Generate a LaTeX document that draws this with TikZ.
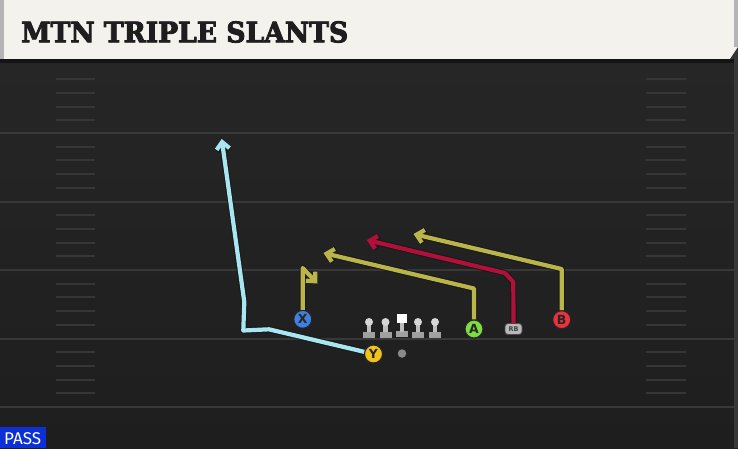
\documentclass[tikz,border=0pt]{standalone}
\usepackage{fontspec}
\usepackage{graphicx}
\usetikzlibrary{arrows.meta}
\newfontfamily\titlefont{DejaVu Serif Condensed Bold}[FakeBold=3]
\newfontfamily\plfont{DejaVu Sans}
\newfontfamily\passfont{Fira Sans}
\definecolor{fieldtop}{HTML}{262626}
\definecolor{fieldbot}{HTML}{1E1E1E}
\definecolor{yardcol}{HTML}{383838}
\definecolor{hashcol}{HTML}{363636}
\definecolor{headerbg}{HTML}{F4F2EC}
\definecolor{headeredge}{HTML}{B4B4B4}
\definecolor{titlecol}{HTML}{1E1E1E}
\definecolor{passblue}{HTML}{0C30D6}
\definecolor{rtblue}{HTML}{A8E6F2}
\definecolor{rtolive}{HTML}{B9B54B}
\definecolor{rtred}{HTML}{B0103A}
\definecolor{xblue}{HTML}{3F7FE0}
\definecolor{yyellow}{HTML}{F2C21C}
\definecolor{agreen}{HTML}{7DDC40}
\definecolor{bred}{HTML}{E8323C}
\definecolor{rbgray}{HTML}{B8B8B8}
\definecolor{ballgray}{HTML}{8A8A8A}
\definecolor{linetop}{HTML}{D6D6D6}
\definecolor{linegray}{HTML}{BDBDBD}
\definecolor{linebot}{HTML}{A0A0A0}
\tikzset{
  yardline/.style={draw=yardcol, line width=2pt},
  hashmark/.style={draw=hashcol, line width=2pt},
  route/.style={line width=4.2pt, line join=round,
    -{Straight Barb[length=7pt,width=13pt]},
    preaction={draw=black!90, line width=6.2pt, line join=round}},
  player/.style={circle, draw=black!85, line width=1.1pt, minimum size=18pt,
    inner sep=0pt, font=\plfont\bfseries\fontsize{12.5}{12.5}\selectfont, text=black!85},
  rbbox/.style={rounded corners=3pt, fill=rbgray, draw=black!70, line width=0.9pt,
    minimum width=17pt, minimum height=11pt, inner sep=0pt,
    font=\plfont\bfseries\fontsize{6.5}{6.5}\selectfont, text=black!75},
  lineman/.pic={
    \fill[linebot] (-6,3.5) rectangle (6,9.5);
    \fill[linegray] (-2.3,-4) rectangle (2.3,4);
    \fill[linetop] (0,-6) circle (4);
  },
  centerman/.pic={
    \fill[linebot] (-6,3) rectangle (6,8.5);
    \fill[linegray] (-2.3,-6) rectangle (2.3,4);
    \fill[white] (-5.3,-14.5) rectangle (5.3,-5.5);
  }
}
\begin{document}
\begin{tikzpicture}[x=1pt,y=-1pt]
\useasboundingbox (0,0) rectangle (738,448);
% field
\fill[top color=fieldtop, bottom color=fieldbot] (0,59) rectangle (738,448);
\fill[black!78] (734,59) rectangle (738,448);
\foreach \yy in {133,201.5,270,338.5,407} \draw[yardline] (0,\yy) -- (734,\yy);
\foreach \yb in {65.5,133,201.5,270,338.5}{
  \foreach \k in {1,2,3,4}{
    \pgfmathsetmacro\hy{\yb+13.7*\k}
    \draw[hashmark] (56,\hy) -- (95,\hy);
    \draw[hashmark] (646,\hy) -- (686,\hy);
  }
}
% header
\fill[black!92] (0,59) rectangle (734,63);
\fill[headerbg] (0,0) rectangle (738,59);
\fill[headeredge] (0,0) rectangle (4,59);
\fill[headeredge] (734,0) rectangle (738,47);
\fill[black!80] (730,59) -- (738,47) -- (738,59) -- cycle;
\node[anchor=base west, inner sep=0pt, text=titlecol] (title) at (21,42.3)
  {\resizebox{327pt}{\height}{\titlefont\fontsize{28.3}{30}\selectfont MTN TRIPLE SLANTS}};
% pass label
\node[fill=passblue, anchor=south west, minimum width=46pt, minimum height=20.5pt, inner sep=0pt] (passbox) at (0,448) {};
\node[anchor=base west, inner sep=0pt, text=white] (passtxt) at (4,444)
  {\resizebox{37pt}{\height}{\passfont\fontsize{17}{18}\selectfont PASS}};
% line
\pic at (369,328) {lineman};
\pic at (385.5,328) {lineman};
\pic at (402,328) {centerman};
\pic at (418,328) {lineman};
\pic at (435,328) {lineman};
\node[circle, fill=ballgray, minimum size=8.5pt, inner sep=0pt] (ball) at (402,353.5) {};
% players
\node[player, fill=xblue] (X) at (302.7,319.3) {X};
\node[player, fill=yyellow] (Y) at (373.5,354) {Y};
\node[player, fill=agreen] (A) at (474,329) {A};
\node[player, fill=bred] (B) at (561.7,319.7) {B};
\node[rbbox] (RB) at (513.5,329) {RB};
% route points
\coordinate (x1) at (302.7,268);
\coordinate (xt) at (317.5,283.5);
\coordinate (y1) at (269,329.3);
\coordinate (y2) at (243.3,330.5);
\coordinate (y3) at (244.3,302);
\coordinate (yt) at (221.7,139);
\coordinate (a1) at (474,288.5);
\coordinate (at) at (323.5,253);
\coordinate (r1) at (513.3,282);
\coordinate (r2) at (505,273);
\coordinate (rt) at (366.7,240);
\coordinate (b1) at (561.7,269);
\coordinate (bt) at (413.5,234);
% routes
\draw[route, rtblue] (Y) -- (y1) -- (y2) -- (y3) -- (yt);
\draw[route, rtolive] (X) -- (x1) -- (xt);
\draw[route, rtolive] (A) -- (a1) -- (at);
\draw[route, rtred] (RB) -- (r1) -- (r2) -- (rt);
\draw[route, rtolive] (B) -- (b1) -- (bt);
\end{tikzpicture}
\end{document}
